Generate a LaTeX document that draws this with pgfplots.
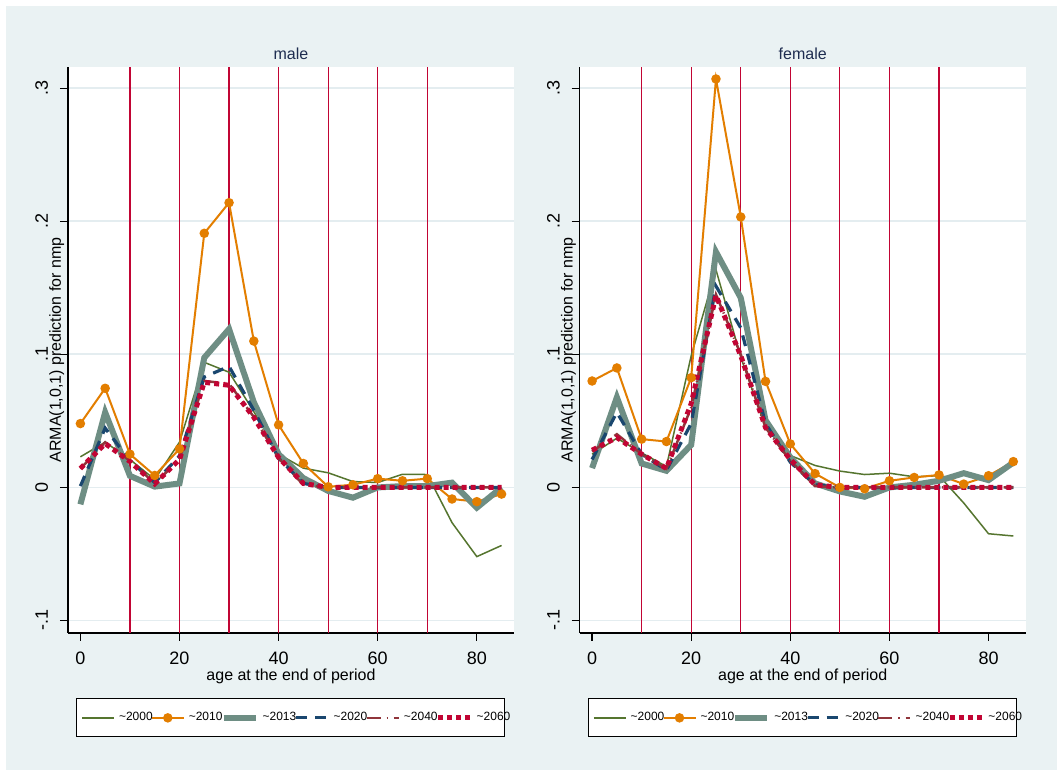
\documentclass[border=0pt]{standalone}
\usepackage{fontspec}
\setmainfont{Liberation Sans}
\usepackage{pgfplots}
\usepackage{pgfplotstable}
\pgfplotsset{compat=1.18}
\definecolor{bgc}{RGB}{234,242,243}
\definecolor{gridc}{RGB}{228,237,240}
\definecolor{c2000}{RGB}{85,117,47}
\definecolor{c2010}{RGB}{227,126,0}
\definecolor{c2013}{RGB}{110,142,132}
\definecolor{c2020}{RGB}{26,71,111}
\definecolor{c2040}{RGB}{144,53,59}
\definecolor{c2060}{RGB}{193,5,52}
\definecolor{titlec}{RGB}{30,45,80}

\pgfplotstableread{
x   a       b       c       d       e      f
0   0.023   0.048  -0.0127  0.001  0.014  0.0142
5   0.034   0.0745  0.0564  0.0446 0.034  0.033
10  0.021   0.025   0.0087  0.020  0.020  0.0195
15  0.006   0.009   0.0006  0.0036 0.003  0.0027
20  0.034   0.029   0.003   0.0237 0.021  0.021
25  0.094   0.191   0.0975  0.083  0.080  0.079
30  0.0866  0.214   0.119   0.091  0.078  0.0768
35  0.057   0.110   0.064   0.058  0.053  0.0527
40  0.025   0.047   0.025   0.022  0.022  0.0225
45  0.0145  0.018   0.007   0.003  0.002  0.003
50  0.011   0.0005 -0.0026  0      0      0
55  0.0044  0.002  -0.0077  0      0      0
60  0.0037  0.0066  0       0      0      0
65  0.0099  0.005   0.001   0      0      0
70  0.0097  0.0066  0.001   0      0      0
75 -0.0265 -0.0087  0.0036  0      0      0
80 -0.052  -0.0107 -0.0152  0      0      0
85 -0.0436 -0.005   0       0      0      0
}\male

\pgfplotstableread{
x   a       b       c       d       e      f
0   0.025   0.080   0.0145  0.021  0.027  0.028
5   0.037   0.0898  0.0677  0.0564 0.040  0.0375
10  0.026   0.0363  0.018   0.025  0.025  0.025
15  0.0157  0.0345  0.0125  0.013  0.014  0.0143
20  0.099   0.0825  0.032   0.048  0.060  0.063
25  0.1636  0.307   0.177   0.1513 0.145  0.1443
30  0.098   0.2033  0.1425  0.120  0.100  0.099
35  0.045   0.0797  0.0505  0.048  0.045  0.045
40  0.024   0.0327  0.0226  0.019  0.020  0.021
45  0.0165  0.0104  0.003   0.002  0.001  0.002
50  0.0123  0      -0.003   0      0      0
55  0.0097 -0.001  -0.007   0      0      0
60  0.0107  0.005   0       0      0      0
65  0.008   0.0075  0.002   0      0      0
70  0.0088  0.0094  0.005   0      0      0
75 -0.0117  0.0025  0.0107  0      0      0
80 -0.0348  0.0088  0.0055  0      0      0
85 -0.0365  0.0194  0.0187  0      0      0
}\female

\pgfplotsset{
  panel/.style={
    scale only axis, width=223pt, height=283pt,
    xmin=-2.5, xmax=87.5, ymin=-0.1094, ymax=0.316,
    axis x line*=bottom, axis y line*=left,
    axis line style={black, line width=0.6pt},
    axis background/.style={fill=white},
    xtick={0,20,40,60,80}, xticklabels={0,20,40,60,80},
    ytick={-0.1,0,0.1,0.2,0.3}, yticklabels={-.1,0,.1,.2,.3},
    tick align=outside, major tick length=4pt,
    tick style={black, line width=0.6pt},
    ymajorgrids, major grid style={gridc, line width=0.9pt},
    extra x ticks={10,20,30,40,50,60,70},
    extra x tick labels={},
    extra x tick style={xmajorgrids=true, ymajorgrids=false, major tick length=0pt,
      major grid style={c2060, line width=0.6pt}},
    /pgf/number format/assume math mode=true,
    ticklabel style={font=\fontsize{9}{10}\selectfont},
    yticklabel style={xshift=-6pt, rotate=90, anchor=base},
    xticklabel style={anchor=base, yshift=-12pt},
    xlabel={age at the end of period},
    xlabel style={at={(axis description cs:0.5,0)}, anchor=base, yshift=-23.95pt,
      font=\fontsize{8}{9.6}\selectfont},
    ylabel={ARMA(1,0,1) prediction for nmp},
    ylabel style={at={(axis description cs:-0.0157,0.5)}, anchor=base,
      font=\fontsize{8}{9.6}\selectfont},
    title style={at={(0.5,1)}, anchor=base, yshift=-2.15pt,
      font=\fontsize{8}{9.6}\selectfont, text=titlec},
    legend columns=6,
    legend cell align=left,
    legend image code/.code={\draw[mark repeat=2,mark phase=2,##1] plot coordinates {(0pt,0pt) (8pt,0pt) (16pt,0pt)};},
    legend style={at={(axis description cs:0.0175,-0.1155)}, anchor=north west,
      draw=black, line width=0.5pt, fill=white, inner xsep=2.6pt, inner ysep=6.5pt,
      font=\fontsize{6}{7}\selectfont,
      nodes={inner xsep=2pt, inner ysep=0pt, text height=4.5pt, text depth=1.5pt},
      /tikz/every odd column/.append style={column sep=0pt},
      /tikz/every even column/.append style={column sep=0pt}},
  },
  s2000/.style={c2000, line width=0.75pt, mark=none},
  s2010/.style={c2010, line width=1pt, mark=*, mark size=1.85pt, mark options={solid, fill=c2010, draw=c2010}},
  s2013/.style={c2013, line width=3pt, mark=none},
  s2020/.style={c2020, line width=1.6pt, mark=none, dash pattern=on 5.5pt off 4pt},
  s2040/.style={c2040, line width=1.25pt, mark=none, dash pattern=on 7pt off 3pt on 0.6pt off 3pt},
  s2060/.style={c2060, line width=2.5pt, mark=none, dash pattern=on 2.5pt off 2pt},
}

\newcommand{\lentry}[2]{\addlegendentry{\makebox[#1][l]{\textasciitilde#2}}}

\begin{document}
\begin{tikzpicture}
\useasboundingbox (0,0) rectangle (528.5pt,385pt);
\fill[white] (0,0) rectangle (528.5pt,385pt);
\fill[bgc] (3pt,0) rectangle (528.5pt,382pt);

\begin{axis}[panel, at={(34pt,68.5pt)}, anchor=south west, title={male}]
\addplot[s2000] table[x=x,y=a] {\male}; \lentry{13.9pt}{2000}
\addplot[s2010] table[x=x,y=b] {\male}; \lentry{13.9pt}{2010}
\addplot[s2013] table[x=x,y=c] {\male}; \lentry{13.9pt}{2013}
\addplot[s2020] table[x=x,y=d] {\male}; \lentry{13.9pt}{2020}
\addplot[s2040] table[x=x,y=e] {\male}; \lentry{13.9pt}{2040}
\addplot[s2060] table[x=x,y=f] {\male}; \lentry{9.2pt}{2060}
\end{axis}

\begin{axis}[panel, at={(289.85pt,68.5pt)}, anchor=south west, title={female}]
\addplot[s2000] table[x=x,y=a] {\female}; \lentry{13.9pt}{2000}
\addplot[s2010] table[x=x,y=b] {\female}; \lentry{13.9pt}{2010}
\addplot[s2013] table[x=x,y=c] {\female}; \lentry{13.9pt}{2013}
\addplot[s2020] table[x=x,y=d] {\female}; \lentry{13.9pt}{2020}
\addplot[s2040] table[x=x,y=e] {\female}; \lentry{13.9pt}{2040}
\addplot[s2060] table[x=x,y=f] {\female}; \lentry{9.2pt}{2060}
\end{axis}
\end{tikzpicture}
\end{document}
